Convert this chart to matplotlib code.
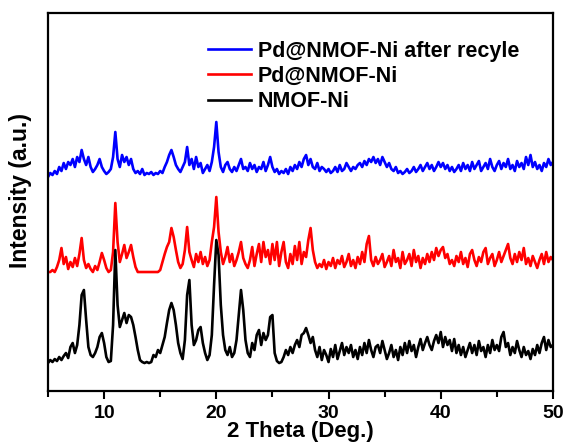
import matplotlib
matplotlib.use("Agg")
import matplotlib.pyplot as plt
import numpy as np
from matplotlib.ticker import MultipleLocator

plt.rcParams['font.family'] = ['Liberation Sans', 'DejaVu Sans']
plt.rcParams['font.weight'] = 'bold'

# 2 theta grid, 0.2 deg steps from 5 to 50
two_theta = np.round(np.arange(5.0, 50.001, 0.2), 1)

# intensities (arbitrary units, above each trace's baseline)
nmof_ni = [
    2, 5, 3, 6, 4,   8, 5, 9, 12, 7,   18, 22, 12, 20, 40,   70, 75, 45, 18, 10,
    8, 12, 18, 28, 32,   22, 8, 3, 4, 40,   115, 60, 38, 45, 52,   42, 50, 48, 40, 28,
    15, 5, 3, 2, 3,   2, 3, 10, 8, 15,   12, 20, 28, 42, 55,   62, 55, 40, 22, 12,
    6, 25, 70, 85, 40,   20, 25, 35, 38, 22,   12, 5, 10, 30, 80,   125, 110, 60, 30, 15,
    10, 18, 8, 12, 25,   50, 75, 55, 25, 12,   8, 22, 15, 30, 35,   20, 32, 25, 30, 48,
    50, 12, 4, 2, 3,   8, 15, 10, 18, 12,   20, 25, 18, 30, 32,   37, 30, 22, 28, 15,
    8, 18, 5, 15, 10,   3, 16, 8, 20, 6,   14, 22, 10, 18, 12,   20, 8, 15, 6, 18,
    10, 22, 12, 25, 15,   8, 18, 20, 12, 24,   15, 6, 12, 20, 8,   15, 5, 18, 10, 22,
    12, 24, 14, 20, 8,   18, 26, 15, 22, 28,   20, 15, 24, 30, 22,   33, 18, 28, 20, 25,
    14, 26, 12, 20, 10,   18, 8, 15, 22, 12,   20, 10, 24, 14, 18,   8, 20, 12, 25, 15,
    20, 14, 28, 33, 18,   22, 10, 18, 12, 24,   15, 8, 18, 10, 14,   6, 16, 10, 20, 12,
    22, 28, 15, 25, 18,   20,
]
pd_nmof_ni = [
    0, 0, 2, 0, 5,   12, 24, 8, 15, 3,   10, 5, 14, 6, 18,   34, 12, 4, 8, 3,
    0, 6, 2, 10, 19,   12, 4, 0, 2, 20,   69, 30, 10, 18, 27,   14, 20, 27, 15, 5,
    0, 0, 0, 0, 0,   0, 0, 0, 0, 0,   2, 10, 18, 25, 30,   44, 35, 22, 10, 4,
    8, 22, 45, 20, 12,   5, 18, 10, 20, 8,   15, 6, 12, 30, 45,   75, 40, 20, 8, 15,
    25, 10, 18, 6, 12,   20, 30, 14, 8, 4,   12, 25, 6, 18, 28,   10, 30, 15, 22, 8,
    28, 12, 30, 6, 20,   30, 10, 4, 18, 8,   26, 12, 30, 8, 20,   15, 32, 44, 22, 10,
    4, 8, 5, 12, 3,   10, 6, 14, 4, 12,   8, 16, 5, 10, 18,   6, 12, 4, 15, 8,
    20, 10, 28, 36, 12,   6, 15, 8, 12, 18,   5, 10, 16, 6, 22,   10, 14, 4, 20, 8,
    12, 18, 6, 22, 10,   16, 4, 14, 8, 18,   10, 20, 12, 24, 16,   22, 25, 14, 18, 8,
    12, 6, 16, 10, 20,   8, 14, 5, 18, 22,   12, 6, 15, 10, 20,   24, 8, 14, 18, 6,
    12, 20, 10, 16, 22,   28, 14, 8, 18, 10,   20, 12, 24, 8, 14,   6, 16, 10, 4, 12,
    18, 8, 20, 10, 15,   12,
]
pd_recycled = [
    0, 4, 2, 6, 3,   10, 6, 14, 8, 15,   12, 18, 10, 20, 15,   27, 18, 12, 20, 10,
    5, 8, 12, 18, 10,   6, 3, 5, 8, 20,   45, 18, 10, 22, 15,   20, 12, 18, 8, 4,
    6, 3, 8, 2, 4,   3, 5, 2, 4, 3,   6, 4, 10, 15, 22,   27, 20, 12, 8, 5,
    10, 15, 30, 12, 18,   8, 20, 10, 14, 4,   8, 12, 6, 15, 30,   55, 25, 10, 5, 12,
    15, 8, 5, 10, 6,   12, 18, 8, 10, 6,   14, 8, 12, 5, 10,   8, 15, 6, 12, 20,
    10, 5, 8, 3, 6,   4, 8, 3, 10, 6,   12, 8, 15, 10, 18,   22, 12, 18, 10, 8,
    14, 6, 10, 8, 5,   8, 4, 6, 10, 5,   12, 6, 8, 14, 10,   6, 10, 8, 12, 14,
    10, 16, 12, 18, 15,   20, 14, 18, 12, 20,   15, 10, 14, 8, 6,   10, 4, 6, 3, 5,
    8, 4, 6, 10, 5,   8, 12, 6, 10, 14,   8, 12, 6, 10, 15,   10, 14, 8, 12, 6,
    10, 5, 8, 12, 6,   14, 8, 12, 6, 15,   8, 12, 16, 6, 10,   14, 8, 18, 10, 6,
    12, 16, 8, 14, 10,   18, 8, 12, 6, 16,   10, 14, 8, 20, 12,   22, 10, 15, 8, 12,
    6, 14, 10, 18, 12,   15,
]

labels = ['Pd@NMOF-Ni after recyle', 'Pd@NMOF-Ni', 'NMOF-Ni']
colors = ['#0000ff', '#ff0000', '#000000']
offsets = [214, 119, 26]

fig = plt.figure(figsize=(5.68, 4.45), dpi=100)
ax = fig.add_axes([0.0845, 0.1213, 0.889, 0.8495])

for ys, lab, c, off in zip([pd_recycled, pd_nmof_ni, nmof_ni], labels, colors, offsets):
    ax.plot(two_theta, np.array(ys) + off, color=c, lw=1.9, label=lab)

ax.set_xlim(5, 50)
ax.set_ylim(0, 378)
ax.set_yticks([])
ax.xaxis.set_major_locator(MultipleLocator(10))
ax.xaxis.set_minor_locator(MultipleLocator(5))
ax.tick_params(axis='x', which='major', direction='out', length=6, width=1.5, labelsize=14, pad=4)
ax.tick_params(axis='x', which='minor', direction='out', length=4, width=1.5)
for s in ax.spines.values():
    s.set_linewidth(1.6)

ax.set_xlabel('2 Theta (Deg.)', fontsize=16, fontweight='bold', labelpad=-1)
ax.set_ylabel('Intensity (a.u.)', fontsize=16.5, fontweight='bold')
ax.yaxis.set_label_coords(-0.032, 0.53)

leg = ax.legend(loc='upper left', bbox_to_anchor=(0.3, 0.95), frameon=False,
                fontsize=15.5, handlelength=2.0, handletextpad=0.3, labelspacing=0.2,
                borderaxespad=0)
for t in leg.get_texts():
    t.set_fontweight('bold')

fig.savefig('out.png', dpi=100)
